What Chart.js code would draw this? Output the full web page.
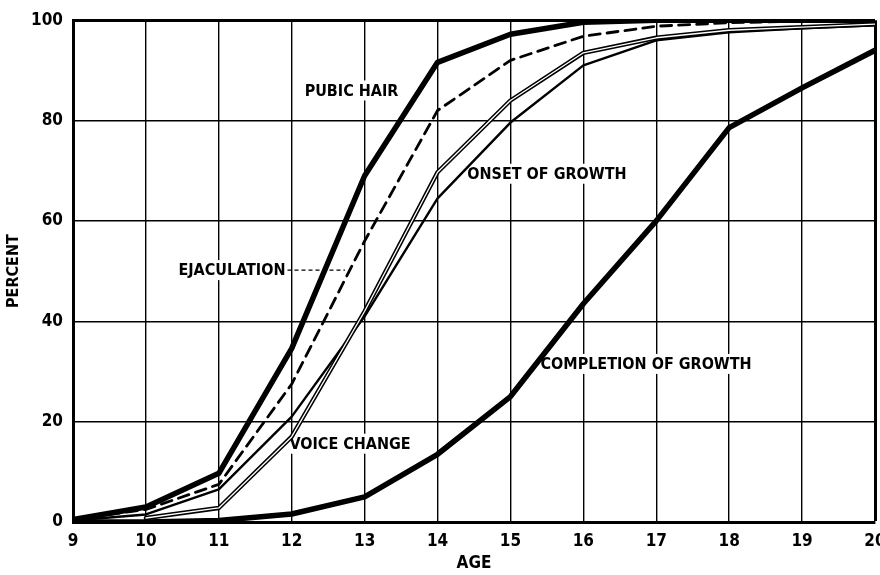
<!DOCTYPE html>
<html>
<head>
<meta charset="utf-8">
<script src="https://cdn.jsdelivr.net/npm/chart.js@4"></script>
<style>
  html, body { margin: 0; padding: 0; background: #fff; }
  #wrap { width: 880px; height: 575px; }
</style>
</head>
<body>
<div id="wrap"><canvas id="growthChart" width="880" height="575"></canvas></div>
<script>
// ages on the x axis
const ages = [9, 10, 11, 12, 13, 14, 15, 16, 17, 18, 19, 20];

// percent of boys showing each sign
const pubicHair = [0.5, 3, 9.7, 34.6, 69, 91.6, 97.2, 99.6, 100, 100, 100, 100];
const ejaculation = [0.5, 2.5, 7.5, 27.5, 56, 82, 92, 96.8, 98.8, 99.5, 99.8, 100];
const voiceChange = [null, 0.8, 2.8, 17, 42, 69.7, 84, 93.5, 96.5, 98, 98.6, 99.2];
const onsetOfGrowth = [0.3, 1.5, 6.5, 21, 41, 64.5, 79.6, 91, 96, 97.6, 98.4, 99];
const completionOfGrowth = [0, 0, 0.3, 1.6, 5, 13.5, 25, 43.5, 60, 78.6, 86.5, 94];

const yTicks = [0, 20, 40, 60, 80, 100];

// curve labels, placed in data units (age, percent)
const curveLabels = [
    { text: 'PUBIC HAIR', age: 12.82, pct: 86 },
    { text: 'ONSET OF GROWTH', age: 15.5, pct: 69.4 },
    { text: 'EJACULATION', age: 11.18, pct: 50.2, leaderTo: 12.73 },
    { text: 'VOICE CHANGE', age: 12.8, pct: 15.6 },
    { text: 'COMPLETION OF GROWTH', age: 16.86, pct: 31.5 }
];

const FONT = "'DejaVu Sans Condensed', 'Liberation Sans Narrow', sans-serif";

function toPoints(values) {
    return ages
        .map(function (a, i) { return { x: a, y: values[i] }; })
        .filter(function (p) { return p.y !== null; });
}

const labelPlugin = {
    id: 'curveLabels',
    beforeDatasetsDraw: function (chart) {
        const ctx = chart.ctx;
        const xs = chart.scales.x;
        const ys = chart.scales.y;
        ctx.save();
        ctx.font = 'bold 16px ' + FONT;
        ctx.textAlign = 'center';
        ctx.textBaseline = 'middle';
        curveLabels.forEach(function (l) {
            const cx = xs.getPixelForValue(l.age);
            const cy = ys.getPixelForValue(l.pct);
            const w = ctx.measureText(l.text).width;
            ctx.fillStyle = '#fff';
            ctx.fillRect(cx - w / 2 - 3, cy - 10, w + 6, 20);
            if (l.leaderTo) {
                ctx.strokeStyle = '#000';
                ctx.lineWidth = 1.3;
                ctx.setLineDash([4, 3]);
                ctx.beginPath();
                ctx.moveTo(cx + w / 2 + 2, cy);
                ctx.lineTo(xs.getPixelForValue(l.leaderTo), cy);
                ctx.stroke();
                ctx.setLineDash([]);
            }
            ctx.fillStyle = '#000';
            ctx.fillText(l.text, cx, cy + 1);
        });
        ctx.restore();
    }
};

const chart = new Chart(document.getElementById('growthChart'), {
    type: 'line',
    data: {
        datasets: [
            {
                label: 'Voice change (inner)',
                data: toPoints(voiceChange),
                borderColor: '#fff',
                borderWidth: 1.3,
                order: 0
            },
            {
                label: 'Voice change',
                data: toPoints(voiceChange),
                borderColor: '#000',
                borderWidth: 4.4,
                order: 1
            },
            {
                label: 'Pubic hair',
                data: toPoints(pubicHair),
                borderColor: '#000',
                borderWidth: 5.5,
                order: 2
            },
            {
                label: 'Ejaculation',
                data: toPoints(ejaculation),
                borderColor: '#000',
                borderWidth: 2.8,
                borderDash: [11, 7],
                order: 2
            },
            {
                label: 'Onset of growth',
                data: toPoints(onsetOfGrowth),
                borderColor: '#000',
                borderWidth: 2.4,
                order: 2
            },
            {
                label: 'Completion of growth',
                data: toPoints(completionOfGrowth),
                borderColor: '#000',
                borderWidth: 5.5,
                order: 2
            }
        ]
    },
    options: {
        responsive: false,
        animation: false,
        layout: { padding: { top: 17, right: 5, left: 0, bottom: 0 } },
        elements: {
            point: { radius: 0 },
            line: { tension: 0, borderCapStyle: 'round', borderJoinStyle: 'round' }
        },
        plugins: {
            legend: { display: false },
            tooltip: { enabled: false }
        },
        scales: {
            x: {
                type: 'linear',
                min: ages[0],
                max: ages[ages.length - 1],
                ticks: {
                    stepSize: 1,
                    color: '#000',
                    padding: 9,
                    font: { family: FONT, size: 17, weight: 'bold' }
                },
                grid: {
                    color: '#000',
                    lineWidth: function (c) { return c.tick && c.tick.value === 20 ? 3 : 1.4; },
                    drawTicks: false
                },
                border: { color: '#000', width: 3 },
                title: {
                    display: true,
                    text: 'AGE',
                    color: '#000',
                    padding: { top: 0, bottom: 1 },
                    font: { family: FONT, size: 17, weight: 'bold' }
                },
                afterFit: function (s) {
                    s.height = 53;
                    s.paddingRight = 0;
                }
            },
            y: {
                min: 0,
                max: 100,
                afterBuildTicks: function (s) {
                    s.ticks = yTicks.map(function (v) { return { value: v }; });
                },
                ticks: {
                    color: '#000',
                    padding: 10,
                    font: { family: FONT, size: 17, weight: 'bold' }
                },
                grid: {
                    color: '#000',
                    lineWidth: function (c) { return c.tick && c.tick.value === 100 ? 3 : 1.4; },
                    drawTicks: false
                },
                border: { color: '#000', width: 3 },
                title: {
                    display: true,
                    text: 'PERCENT',
                    color: '#000',
                    padding: { top: 4, bottom: 0 },
                    font: { family: FONT, size: 16, weight: 'bold' }
                },
                afterFit: function (s) { s.width = 73; }
            }
        }
    },
    plugins: [labelPlugin]
});
</script>
</body>
</html>
